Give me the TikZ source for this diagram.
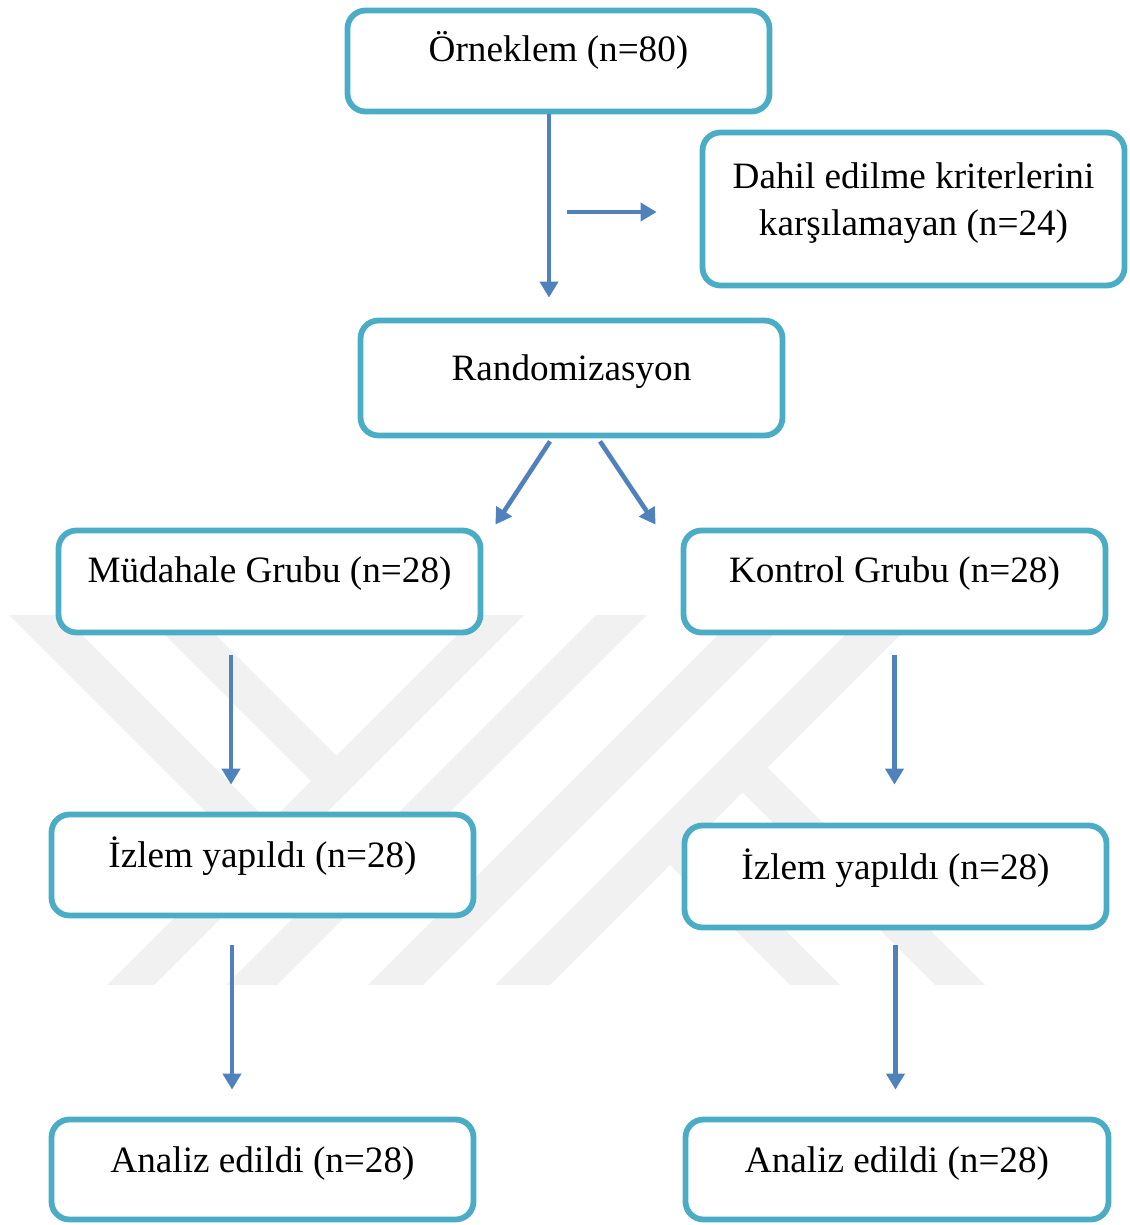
\documentclass[tikz,border=0pt]{standalone}
\usepackage{fontspec}
\setmainfont{Liberation Serif}
\usetikzlibrary{arrows.meta}
\definecolor{boxc}{HTML}{4BACC6}
\definecolor{arrc}{HTML}{4F81BD}
\definecolor{wmark}{HTML}{F1F1F1}
\tikzset{
  box/.style={draw=boxc, fill=white, line width=2.9pt, rounded corners=9pt,
    minimum width=211pt, inner sep=0pt, font=\fontsize{18.6}{23.5}\selectfont},
  arr/.style={draw=arrc, line width=2.3pt, -{Triangle[width=9pt,length=8pt]}}
}
\begin{document}
\begin{tikzpicture}[x=0.5pt,y=-0.5pt]
		%%%%% START %%%%%
		\useasboundingbox (0,0) rectangle (1129,1225);
		
		% faint logo behind the chart
		\fill[wmark] (9,615) -- (62,615) -- (269,822) -- (243,849) -- cycle;
		\fill[wmark] (145,615) -- (196,615) -- (336.5,755.5) -- (311,781) -- cycle;
		\fill[wmark] (477,615) -- (524,615) -- (154,985) -- (107,985) -- cycle;
		\fill[wmark] (596,615) -- (647,615) -- (277,985) -- (226,985) -- cycle;
		\fill[wmark] (738,615) -- (793,615) -- (423,985) -- (368,985) -- cycle;
		\fill[wmark] (865,615) -- (920,615) -- (550,985) -- (495,985) -- cycle;
		\fill[wmark] (767,767) -- (985,985) -- (935,985) -- (742.5,792.5) -- cycle;
		\fill[wmark] (695,840) -- (840,985) -- (790,985) -- (670,865) -- cycle;
		
		\node[box, text height=25.75pt, text depth=24.75pt] (orn) at (558.5,61) {Örneklem (n=80)};
		\node[box, align=center, text height=51.25pt, text depth=25.25pt] (dahil) at (913.5,209) {Dahil edilme kriterlerini\\karşılamayan (n=24)};
		\node[box, text height=29.75pt, text depth=27.75pt] (rand) at (571.5,378) {Randomizasyon};
		
		\node[box, text height=25.75pt, text depth=25.25pt] (mud) at (269.5,581.5) {Müdahale Grubu (n=28)};
		\node[box, text height=25.75pt, text depth=25.25pt] (kon) at (894.5,581.5) {Kontrol Grubu (n=28)};
		
		\node[box, text height=26.25pt, text depth=24.25pt] (izl) at (262.5,865) {İzlem yapıldı (n=28)};
		\node[box, text height=26.75pt, text depth=24.25pt] (izr) at (895.5,876.5) {İzlem yapıldı (n=28)};
		
		\node[box, text height=26.25pt, text depth=23.75pt] (anl) at (262.5,1169.5) {Analiz edildi (n=28)};
		\node[box, minimum width=211.5pt, text height=26.25pt, text depth=23.75pt] (anr) at (897,1169.5) {Analiz edildi (n=28)};
		
		\draw[arr] ([xshift=-4.75pt]orn.south) -- ([xshift=-11.25pt,yshift=10pt]rand.north);
		\draw[arr] ([xshift=-66.5pt,yshift=-1.5pt]dahil.west) -- ([xshift=-21.5pt,yshift=-1.5pt]dahil.west);
		\draw[arr] ([xshift=-10.75pt,yshift=-1.5pt]rand.south) -- ([xshift=6pt,yshift=1.5pt]mud.north east);
		\draw[arr] ([xshift=14.25pt,yshift=-1.5pt]rand.south) -- ([xshift=-12.5pt,yshift=1.5pt]kon.north west);
		
		\draw[arr] ([xshift=-19.25pt,yshift=-10pt]mud.south) -- ([xshift=-15.75pt,yshift=13.5pt]izl.north);
		\draw[arr] ([yshift=-10pt]kon.south) -- ([xshift=-0.5pt,yshift=19pt]izr.north);
		
		\draw[arr] ([xshift=-15.25pt,yshift=-13.5pt]izl.south) -- ([xshift=-15.25pt,yshift=13.5pt]anl.north);
		\draw[arr] ([yshift=-7.5pt]izr.south) -- ([xshift=-0.75pt,yshift=13.5pt]anr.north);
		%%%%% END %%%%%
\end{tikzpicture}
\end{document}
